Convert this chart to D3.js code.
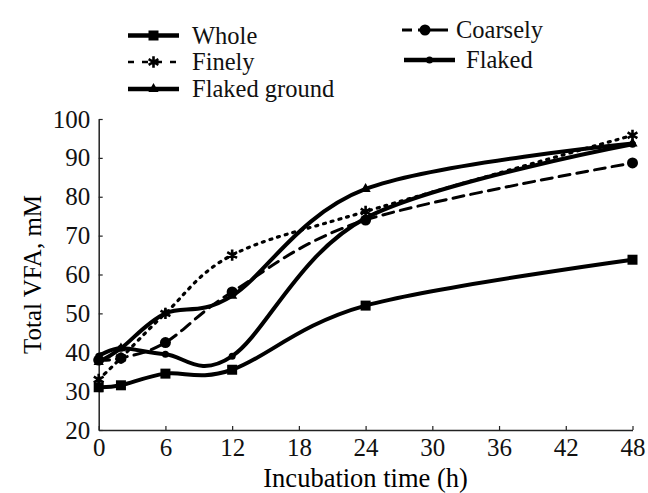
<!DOCTYPE html>
<html>
<head>
<meta charset="utf-8">
<script src="https://cdn.jsdelivr.net/npm/d3@7"></script>
<style>
  body { margin: 0; background: #fff; }
</style>
</head>
<body>
<script>
// incubation hours
const HOURS = [0, 2, 6, 12, 24, 48];

// total VFA (mM) per treatment
const WHOLE = [31, 31.5, 34.5, 35.5, 52, 63.8];
const FINELY = [33, 38.5, 50, 65, 76.2, 95.8];
const FLAKED_GROUND = [37.5, 41, 50, 54.5, 82, 93.7];
const COARSELY = [38, 38.5, 42.5, 55.5, 74, 88.7];
const FLAKED = [39, 41, 39.5, 39, 74.5, 93.5];

const X_TICKS = [0, 6, 12, 18, 24, 30, 36, 42, 48];
const Y_TICKS = [20, 30, 40, 50, 60, 70, 80, 90, 100];

const width = 648;
const height = 493;
const margin = { left: 98.7, right: 15.5, top: 119, bottom: 63 };
const FONT = '"Liberation Serif", "Times New Roman", "DejaVu Serif", serif';

const x = d3.scaleLinear()
  .domain([0, 48])
  .range([margin.left, width - margin.right]);

const y = d3.scaleLinear()
  .domain([20, 100])
  .range([height - margin.bottom, margin.top]);

const series = [
  { name: "Whole", values: WHOLE, dash: null, width: 4, marker: "square" },
  { name: "Finely", values: FINELY, dash: "2 6", width: 3.2, marker: "asterisk" },
  { name: "Flaked ground", values: FLAKED_GROUND, dash: null, width: 4, marker: "triangle" },
  { name: "Coarsely", values: COARSELY, dash: "11 7", width: 3, marker: "circle" },
  { name: "Flaked", values: FLAKED, dash: null, width: 4, marker: "dot" }
];

function drawMarker(g, kind, cx, cy) {
  if (kind === "square") {
    g.append("rect").attr("x", cx - 5).attr("y", cy - 5)
      .attr("width", 10).attr("height", 10).attr("fill", "#000");
  } else if (kind === "circle") {
    g.append("circle").attr("cx", cx).attr("cy", cy).attr("r", 5.5).attr("fill", "#000");
  } else if (kind === "dot") {
    g.append("circle").attr("cx", cx).attr("cy", cy).attr("r", 3.5).attr("fill", "#000");
  } else if (kind === "triangle") {
    g.append("path")
      .attr("transform", "translate(" + cx + "," + cy + ")")
      .attr("d", d3.symbol(d3.symbolTriangle, 45)())
      .attr("fill", "#000");
  } else if (kind === "asterisk") {
    g.append("path")
      .attr("transform", "translate(" + cx + "," + cy + ")")
      .attr("d", d3.symbol(d3.symbolAsterisk, 90)())
      .attr("fill", "none").attr("stroke", "#000").attr("stroke-width", 2.6);
  }
}

document.addEventListener("DOMContentLoaded", function () {
  let svg = d3.select("body").append("svg")
    .attr("width", width)
    .attr("height", height)
    .style("font-family", FONT);

  // axes
  let yAxis = svg.append("g")
    .attr("transform", "translate(" + margin.left + ",0)")
    .call(d3.axisLeft(y).tickValues(Y_TICKS).tickSizeInner(-4).tickSizeOuter(0).tickPadding(8.5));

  let xAxis = svg.append("g")
    .attr("transform", "translate(0," + y(20) + ")")
    .call(d3.axisBottom(x).tickValues(X_TICKS).tickSizeInner(-4).tickSizeOuter(0).tickPadding(8));

  svg.selectAll(".tick text")
    .style("font-family", FONT)
    .style("font-size", "25px")
    .attr("fill", "#111");
  svg.selectAll(".domain").attr("stroke", "#222").attr("stroke-width", 1.5);
  svg.selectAll(".tick line").attr("stroke", "#222").attr("stroke-width", 1.2);

  // axis titles
  svg.append("text")
    .attr("x", (x(0) + x(48)) / 2)
    .attr("y", 487)
    .attr("text-anchor", "middle")
    .style("font-family", FONT)
    .style("font-size", "26.5px")
    .text("Incubation time (h)");

  svg.append("text")
    .attr("transform", "translate(41," + (y(20) + y(100)) / 2 + ") rotate(-90)")
    .attr("text-anchor", "middle")
    .style("font-family", FONT)
    .style("font-size", "25px")
    .text("Total VFA, mM");

  // lines
  let line = d3.line()
    .x(function (d, i) { return x(HOURS[i]); })
    .y(function (d) { return y(d); })
    .curve(d3.curveCardinal);

  series.forEach(function (s) {
    let g = svg.append("g");
    g.append("path")
      .attr("d", line(s.values))
      .attr("fill", "none")
      .attr("stroke", "#000")
      .attr("stroke-width", s.width)
      .attr("stroke-linecap", s.dash ? "round" : "butt")
      .attr("stroke-dasharray", s.dash);
    s.values.forEach(function (v, i) {
      drawMarker(g, s.marker, x(HOURS[i]), y(v));
    });
  });

  // legend
  const legendPos = [
    { x: 128, y: 35.5 }, { x: 128, y: 62 }, { x: 128, y: 89 },
    { x: 402, y: 30 }, { x: 404, y: 60 }
  ];
  const textX = [192, 192, 192, 456, 466];
  series.forEach(function (s, i) {
    let p = legendPos[i];
    let g = svg.append("g");
    let len = i === 3 ? 46 : 51;
    if (s.name === "Finely") {
      g.append("line").attr("x1", p.x).attr("x2", p.x + len).attr("y1", p.y).attr("y2", p.y)
        .attr("stroke", "#000").attr("stroke-width", 2.5).attr("stroke-dasharray", "6 8");
    } else if (s.name === "Coarsely") {
      g.append("line").attr("x1", p.x).attr("x2", p.x + len).attr("y1", p.y).attr("y2", p.y)
        .attr("stroke", "#000").attr("stroke-width", 3).attr("stroke-dasharray", "10 6 30");
    } else {
      g.append("line").attr("x1", p.x).attr("x2", p.x + len).attr("y1", p.y).attr("y2", p.y)
        .attr("stroke", "#000").attr("stroke-width", 4.5);
    }
    drawMarker(g, s.marker, p.x + len / 2, p.y);
    g.append("text")
      .attr("x", textX[i])
      .attr("y", p.y + 8)
      .style("font-family", FONT)
      .style("font-size", "24.5px")
      .attr("fill", "#111")
      .text(s.name);
  });
});
</script>
</body>
</html>
